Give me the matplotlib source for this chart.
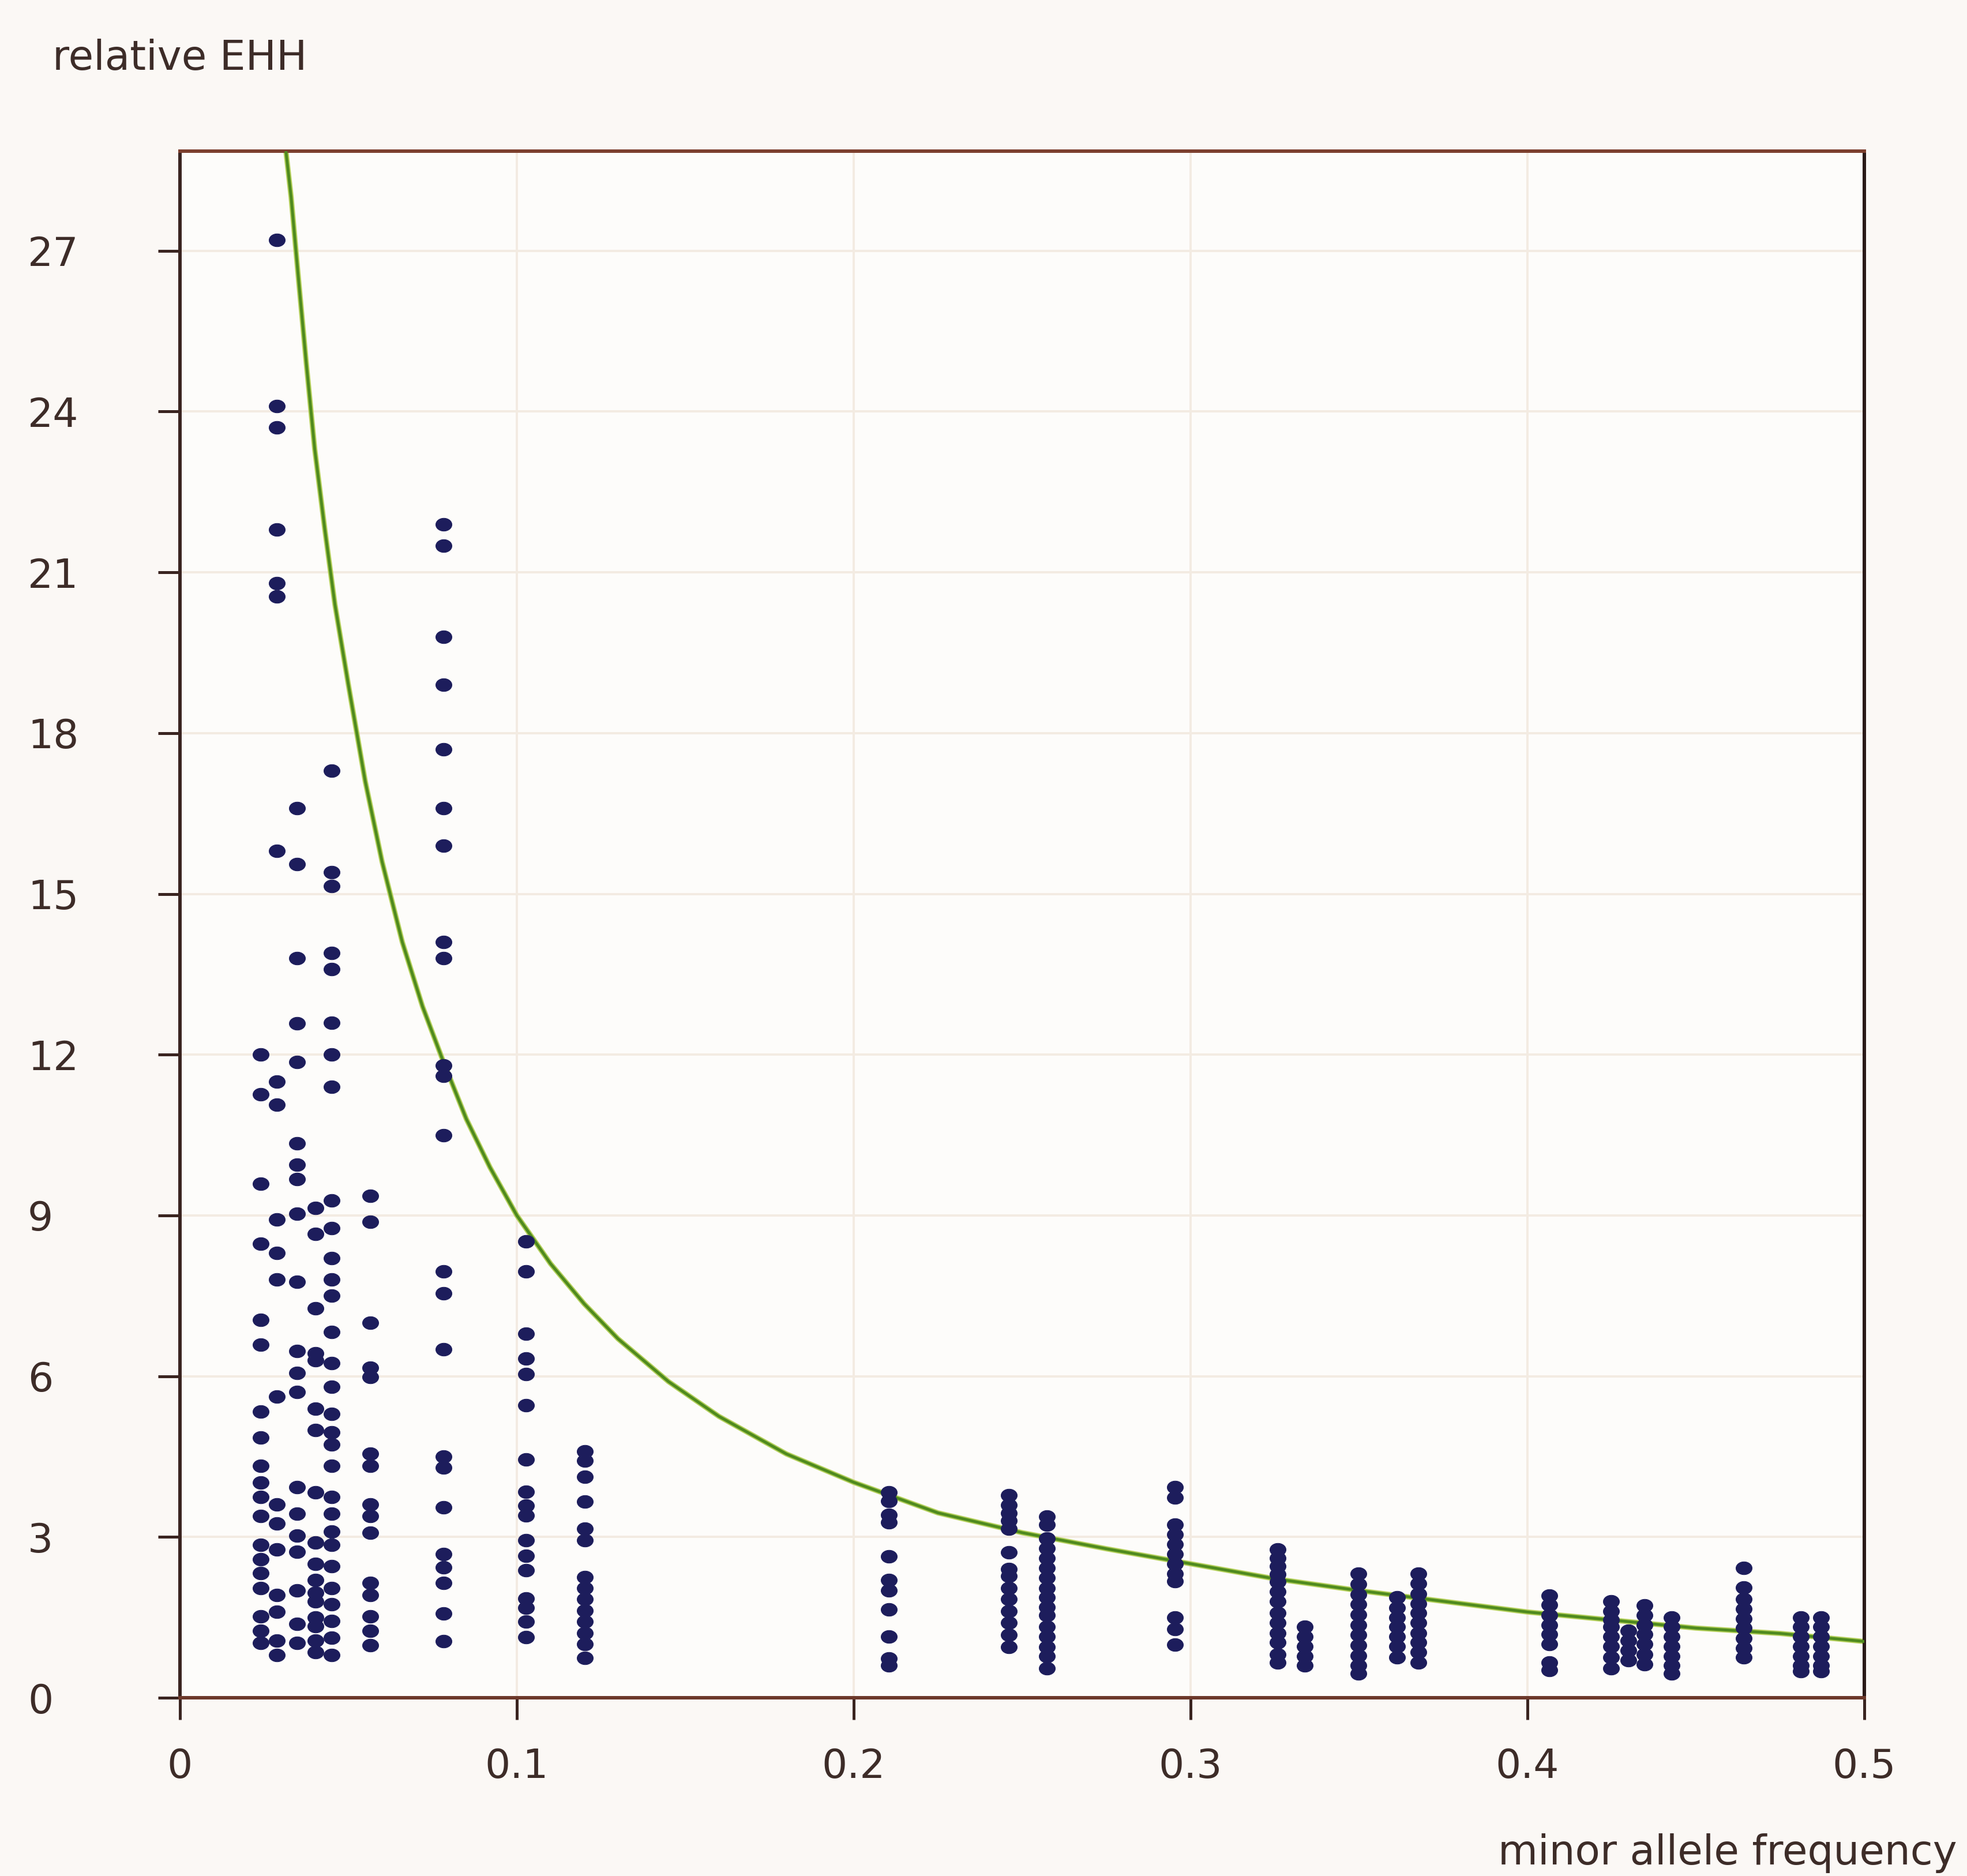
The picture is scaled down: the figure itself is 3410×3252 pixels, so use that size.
import numpy as np
import matplotlib
matplotlib.use("Agg")
import matplotlib.pyplot as plt
from matplotlib.path import Path

# ---------------- data ----------------
# expected-EHH curve (minor allele frequency, relative EHH)
curve_maf = [0.0312, 0.0330, 0.0350, 0.0375, 0.040, 0.043, 0.046, 0.050, 0.055,
             0.060, 0.066, 0.072, 0.078, 0.085, 0.092, 0.100, 0.110, 0.120,
             0.130, 0.145, 0.160, 0.180, 0.200, 0.225, 0.250, 0.275, 0.300,
             0.325, 0.350, 0.375, 0.400, 0.425, 0.450, 0.475, 0.500]
curve_ehh = [29.0, 28.0, 26.6, 24.9, 23.3, 21.8, 20.4, 18.9, 17.1,
             15.6, 14.1, 12.9, 11.9, 10.8, 9.9, 9.0, 8.1, 7.35,
             6.7, 5.9, 5.25, 4.55, 4.02, 3.45, 3.08, 2.78, 2.5,
             2.22, 2.0, 1.8, 1.6, 1.45, 1.3, 1.2, 1.05]

# SNP columns: minor allele frequency and the relative EHH values in that column
snp_maf = [0.0240, 0.0288, 0.0348, 0.0403, 0.0450, 0.0565, 0.0783, 0.1028, 0.1202,
           0.2105, 0.2460, 0.2573, 0.2953, 0.3258, 0.3339, 0.3498, 0.3613, 0.3676,
           0.4065, 0.4248, 0.4300, 0.4347, 0.4428, 0.4642, 0.4812, 0.4872]
snp_rehh = [
    [12.0, 11.26, 9.59, 8.47, 7.05, 6.59, 5.34, 4.86, 4.33, 4.01, 3.75, 3.39, 2.85,
     2.58, 2.32, 2.05, 1.52, 1.25, 1.02],
    [27.2, 24.1, 23.7, 21.8, 20.8, 20.55, 15.8, 11.5, 11.07, 8.92, 8.3, 7.8, 5.62,
     3.61, 3.25, 2.77, 1.92, 1.6, 1.07, 0.8],
    [16.6, 15.55, 13.8, 12.58, 11.86, 10.35, 9.95, 9.68, 9.03, 7.76, 6.47, 6.06, 5.7,
     3.93, 3.43, 3.03, 2.72, 2.0, 1.38, 1.02],
    [9.14, 8.65, 7.27, 6.43, 6.3, 5.39, 5.0, 3.83, 2.9, 2.5, 2.2, 1.96, 1.8, 1.5,
     1.33, 1.07, 0.85],
    [17.3, 15.4, 15.15, 13.9, 13.6, 12.6, 12.0, 11.4, 9.28, 8.76, 8.2, 7.8, 7.5, 6.82,
     6.24, 5.8, 5.3, 4.95, 4.73, 4.33, 3.75, 3.43, 3.1, 2.85, 2.45, 2.05, 1.74, 1.43,
     1.12, 0.8],
    [9.37, 8.88, 7.0, 6.16, 5.98, 4.55, 4.33, 3.61, 3.39, 3.08, 2.14, 1.92, 1.52,
     1.25, 0.98],
    [21.9, 21.5, 19.8, 18.9, 17.7, 16.6, 15.9, 14.1, 13.8, 11.8, 11.6, 10.5, 7.95,
     7.55, 6.5, 4.5, 4.3, 3.55, 2.68, 2.43, 2.14, 1.57, 1.06],
    [8.52, 7.95, 6.79, 6.33, 6.04, 5.46, 4.45, 3.84, 3.59, 3.4, 2.94, 2.65, 2.38,
     1.85, 1.68, 1.42, 1.13],
    [4.6, 4.42, 4.12, 3.66, 3.15, 2.94, 2.25, 2.04, 1.84, 1.63, 1.42, 1.21, 1.0, 0.74],
    [3.83, 3.67, 3.41, 3.27, 2.64, 2.2, 2.0, 1.65, 1.14, 0.73, 0.6],
    [3.78, 3.6, 3.45, 3.3, 3.15, 2.71, 2.4, 2.27, 2.05, 1.84, 1.62, 1.4, 1.17, 0.95],
    [3.38, 3.23, 2.97, 2.79, 2.6, 2.42, 2.24, 2.05, 1.87, 1.69, 1.54, 1.32, 1.14,
     0.95, 0.77, 0.55],
    [3.93, 3.74, 3.23, 3.05, 2.86, 2.68, 2.5, 2.31, 2.17, 1.5, 1.28, 0.99],
    [2.77, 2.6, 2.45, 2.3, 2.16, 1.98, 1.8, 1.58, 1.4, 1.21, 1.03, 0.81, 0.66],
    [1.32, 1.14, 0.96, 0.78, 0.6],
    [2.31, 2.12, 1.93, 1.74, 1.55, 1.36, 1.17, 0.98, 0.79, 0.6, 0.45],
    [1.87, 1.68, 1.5, 1.32, 1.14, 0.96, 0.75],
    [2.31, 2.13, 1.94, 1.76, 1.58, 1.4, 1.21, 1.03, 0.85, 0.66],
    [1.91, 1.73, 1.54, 1.36, 1.18, 1.0, 0.66, 0.52],
    [1.8, 1.62, 1.45, 1.32, 1.14, 0.96, 0.75, 0.55],
    [1.25, 1.07, 0.88, 0.7],
    [1.72, 1.54, 1.36, 1.18, 1.0, 0.81, 0.62],
    [1.5, 1.32, 1.14, 0.96, 0.78, 0.6, 0.45],
    [2.42, 2.06, 1.84, 1.66, 1.48, 1.3, 1.11, 0.93, 0.75],
    [1.5, 1.32, 1.14, 0.96, 0.78, 0.6, 0.49],
    [1.5, 1.32, 1.14, 0.96, 0.78, 0.6, 0.49],
]

x_ticks = [0, 0.1, 0.2, 0.3, 0.4, 0.5]
x_ticklabels = ["0", "0.1", "0.2", "0.3", "0.4", "0.5"]
y_ticks = [0, 3, 6, 9, 12, 15, 18, 21, 24, 27]
y_ticklabels = [str(v) for v in y_ticks]
x_label = "minor allele frequency"
y_label = "relative EHH"

# ---------------- figure ----------------
W, H = 3410, 3252
DPI = 100
px = 72.0 / DPI  # points per pixel

fig = plt.figure(figsize=(W / DPI, H / DPI), dpi=DPI)
fig.patch.set_facecolor("#fbf8f5")

left_px, right_px, top_px, bottom_px = 312, 3232, 262, 2943
ax = fig.add_axes([left_px / W, 1 - bottom_px / H,
                   (right_px - left_px) / W, (bottom_px - top_px) / H])
ax.set_facecolor("#fdfcfa")
ax.set_xlim(0, 0.5)
ax.set_ylim(0, 28.86)

# grid
ax.set_axisbelow(True)
ax.grid(True, color="#f3ebe2", linewidth=4 * px)

# curve (halo + core)
ax.plot(curve_maf, curve_ehh, color="#b3cf5a", lw=9 * px, solid_capstyle="round",
        solid_joinstyle="round", zorder=2)
ax.plot(curve_maf, curve_ehh, color="#4f8a1e", lw=5 * px, solid_joinstyle="round",
        zorder=3)

# oval marker
t = np.linspace(0, 2 * np.pi, 40)
oval = Path(np.column_stack([np.cos(t), 0.8 * np.sin(t)]), closed=True)

xs, ys = [], []
for m, vals in zip(snp_maf, snp_rehh):
    xs.extend([m] * len(vals))
    ys.extend(vals)
ax.plot(xs, ys, linestyle="none", marker=oval, markersize=28 * px,
        markerfacecolor="#1d1d5c", markeredgecolor="#1d1d5c",
        markeredgewidth=1.0 * px, zorder=4)

# spines
spine_cols = {"top": "#7c3f2e", "bottom": "#6d392b", "left": "#3a2420", "right": "#2a1a18"}
for k, c in spine_cols.items():
    ax.spines[k].set_color(c)
    ax.spines[k].set_linewidth(6 * px)

txt_col = "#3d2c28"
ax.set_xticks(x_ticks)
ax.set_xticklabels(x_ticklabels)
ax.set_yticks(y_ticks)
ax.set_yticklabels(y_ticklabels)
ax.tick_params(axis="both", direction="out", length=38 * px, width=5 * px,
               color="#3a2420", labelcolor=txt_col, labelsize=50)
ax.tick_params(axis="x", pad=48 * px)
ax.tick_params(axis="y", pad=(264 - 38) * px)
for lab in ax.get_yticklabels():
    lab.set_horizontalalignment("left")
    lab.set_family("DejaVu Sans")
for lab in ax.get_xticklabels():
    lab.set_family("DejaVu Sans")

fig.text(91 / W, 1 - 102 / H, y_label, ha="left", va="center",
         fontsize=51, color=txt_col, family="DejaVu Sans")
fig.text(3393 / W, 1 - 3212 / H, x_label, ha="right", va="center",
         fontsize=51, color=txt_col, family="DejaVu Sans")

fig.savefig("out.png", dpi=DPI, facecolor=fig.get_facecolor())
